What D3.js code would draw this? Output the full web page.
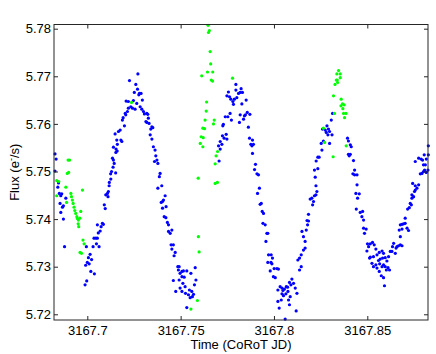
<!DOCTYPE html>
<html>
<head>
<meta charset="utf-8">
<script src="https://cdn.jsdelivr.net/npm/d3@7"></script>
<style>
  body { margin: 0; background: #fff; }
  svg { display: block; }
  text { font-family: "Liberation Sans", Arial, Helvetica, sans-serif; }
</style>
</head>
<body>
<div id="chart"></div>
<script>
// tick values and labels
const xTicks = [3167.7, 3167.75, 3167.8, 3167.85];
const xTickLabels = ["3167.7", "3167.75", "3167.8", "3167.85"];
const yTicks = [5.72, 5.73, 5.74, 5.75, 5.76, 5.77, 5.78];

// [time (CoRoT JD), flux] - blue points
const blueSeries = [
  [3167.6827,5.7537],[3167.6833,5.7526],[3167.6827,5.7501],[3167.6846,5.7476],[3167.6842,5.7467],[3167.6850,5.7454],
  [3167.6863,5.7453],[3167.6858,5.7449],[3167.6885,5.7444],[3167.6854,5.7433],[3167.6872,5.7428],[3167.6867,5.7425],
  [3167.6858,5.7414],[3167.6872,5.7400],[3167.6878,5.7342],
  [3167.6988,5.7262],[3167.6997,5.7270],[3167.6991,5.7303],[3167.7000,5.7309],[3167.7010,5.7306],[3167.7006,5.7319],
  [3167.7023,5.7315],[3167.7015,5.7326],[3167.6995,5.7342],[3167.7019,5.7290],[3167.7038,5.7285],[3167.7031,5.7342],
  [3167.7049,5.7348],[3167.7063,5.7342],[3167.7036,5.7360],[3167.7046,5.7360],[3167.7054,5.7360],[3167.7059,5.7371],
  [3167.7069,5.7375],[3167.7074,5.7384],[3167.7054,5.7388],[3167.7081,5.7391],[3167.7086,5.7389],[3167.7091,5.7430],
  [3167.7096,5.7422],[3167.7108,5.7454],[3167.7099,5.7451],[3167.7111,5.7447],[3167.7113,5.7458],[3167.7117,5.7470],
  [3167.7118,5.7477],[3167.7126,5.7484],[3167.7125,5.7495],[3167.7130,5.7500],[3167.7152,5.7497],[3167.7138,5.7509],
  [3167.7144,5.7517],[3167.7140,5.7524],[3167.7135,5.7528],[3167.7153,5.7540],[3167.7160,5.7543],[3167.7154,5.7547],
  [3167.7140,5.7551],[3167.7161,5.7557],[3167.7158,5.7566],[3167.7180,5.7566],[3167.7185,5.7563],[3167.7149,5.7579],
  [3167.7167,5.7584],[3167.7176,5.7587],[3167.7199,5.7596],[3167.7188,5.7608],[3167.7192,5.7613],[3167.7206,5.7619],
  [3167.7203,5.7622],[3167.7215,5.7626],[3167.7220,5.7633],[3167.7208,5.7648],[3167.7220,5.7647],[3167.7233,5.7636],
  [3167.7242,5.7633],[3167.7247,5.7649],[3167.7256,5.7631],[3167.7265,5.7643],[3167.7226,5.7691],[3167.7252,5.7666],
  [3167.7260,5.7683],[3167.7271,5.7705],[3167.7269,5.7673],[3167.7279,5.7664],[3167.7288,5.7664],[3167.7276,5.7661],
  [3167.7295,5.7650],[3167.7283,5.7636],[3167.7292,5.7631],[3167.7301,5.7626],[3167.7306,5.7621],[3167.7319,5.7622],
  [3167.7324,5.7620],[3167.7327,5.7612],[3167.7314,5.7605],[3167.7319,5.7603],[3167.7331,5.7601],[3167.7346,5.7594],
  [3167.7351,5.7592],[3167.7340,5.7589],[3167.7337,5.7577],[3167.7346,5.7568],[3167.7354,5.7552],[3167.7363,5.7545],
  [3167.7367,5.7533],[3167.7373,5.7524],[3167.7360,5.7521],[3167.7378,5.7517],[3167.7390,5.7496],[3167.7386,5.7489],
  [3167.7399,5.7470],[3167.7378,5.7465],[3167.7417,5.7449],[3167.7408,5.7440],[3167.7403,5.7437],[3167.7396,5.7435],
  [3167.7422,5.7426],[3167.7403,5.7423],[3167.7412,5.7405],[3167.7421,5.7403],[3167.7429,5.7393],[3167.7435,5.7388],
  [3167.7435,5.7374],[3167.7444,5.7370],[3167.7453,5.7377],[3167.7449,5.7346],[3167.7461,5.7346],[3167.7453,5.7337],
  [3167.7471,5.7330],[3167.7465,5.7323],[3167.7485,5.7300],[3167.7492,5.7300],[3167.7461,5.7271],[3167.7474,5.7248],
  [3167.7488,5.7293],[3167.7497,5.7286],[3167.7507,5.7290],[3167.7515,5.7291],[3167.7533,5.7291],[3167.7555,5.7286],
  [3167.7578,5.7298],[3167.7492,5.7272],[3167.7507,5.7279],[3167.7519,5.7278],[3167.7512,5.7265],[3167.7497,5.7255],
  [3167.7524,5.7258],[3167.7507,5.7248],[3167.7526,5.7244],[3167.7547,5.7251],[3167.7560,5.7248],[3167.7574,5.7262],
  [3167.7582,5.7272],[3167.7569,5.7242],[3167.7542,5.7241],[3167.7551,5.7235],[3167.7563,5.7237],[3167.7533,5.7214],
  [3167.7706,5.7522],[3167.7703,5.7554],[3167.7712,5.7547],[3167.7712,5.7563],[3167.7721,5.7557],[3167.7724,5.7575],
  [3167.7733,5.7570],[3167.7744,5.7578],[3167.7748,5.7568],[3167.7726,5.7596],[3167.7729,5.7599],[3167.7739,5.7615],
  [3167.7753,5.7615],[3167.7765,5.7622],[3167.7772,5.7608],[3167.7756,5.7667],[3167.7748,5.7659],[3167.7762,5.7657],
  [3167.7769,5.7652],[3167.7780,5.7647],[3167.7783,5.7641],[3167.7788,5.7652],[3167.7796,5.7671],[3167.7796,5.7683],
  [3167.7801,5.7655],[3167.7810,5.7664],[3167.7819,5.7666],[3167.7824,5.7674],[3167.7831,5.7666],[3167.7828,5.7642],
  [3167.7851,5.7650],[3167.7815,5.7603],[3167.7819,5.7619],[3167.7837,5.7610],[3167.7842,5.7617],[3167.7847,5.7619],
  [3167.7857,5.7624],[3167.7871,5.7620],[3167.7863,5.7593],[3167.7869,5.7570],[3167.7885,5.7566],[3167.7876,5.7557],
  [3167.7882,5.7554],[3167.7890,5.7557],[3167.7885,5.7538],[3167.7901,5.7515],[3167.7896,5.7504],[3167.7909,5.7495],
  [3167.7917,5.7493],[3167.7922,5.7465],[3167.7912,5.7454],[3167.7926,5.7431],[3167.7932,5.7433],[3167.7937,5.7416],
  [3167.7944,5.7412],[3167.7941,5.7391],[3167.7953,5.7388],[3167.7962,5.7370],[3167.7967,5.7370],[3167.7957,5.7353],
  [3167.7971,5.7325],[3167.7985,5.7325],[3167.7992,5.7318],[3167.7967,5.7309],[3167.7984,5.7309],[3167.7989,5.7306],
  [3167.7980,5.7291],[3167.8001,5.7296],[3167.8016,5.7296],[3167.8024,5.7295],[3167.7997,5.7279],[3167.8007,5.7277],
  [3167.8033,5.7258],[3167.8043,5.7255],[3167.8021,5.7251],[3167.8048,5.7250],[3167.8056,5.7253],[3167.8066,5.7258],
  [3167.8073,5.7257],[3167.8083,5.7267],[3167.8096,5.7274],[3167.8091,5.7262],[3167.8105,5.7265],[3167.8114,5.7255],
  [3167.8123,5.7244],[3167.8043,5.7243],[3167.8051,5.7239],[3167.8064,5.7243],[3167.8075,5.7248],[3167.8078,5.7230],
  [3167.8039,5.7230],[3167.8021,5.7227],[3167.8083,5.7220],[3167.8028,5.7213],[3167.8060,5.7190],[3167.8119,5.7207],
  [3167.8087,5.7237],
  [3167.8128,5.7314],[3167.8137,5.7318],[3167.8146,5.7325],[3167.8137,5.7293],[3167.8146,5.7300],[3167.8158,5.7335],
  [3167.8167,5.7339],[3167.8150,5.7374],[3167.8158,5.7363],[3167.8167,5.7353],[3167.8173,5.7377],[3167.8180,5.7388],
  [3167.8177,5.7397],[3167.8185,5.7396],[3167.8185,5.7410],[3167.8194,5.7442],[3167.8203,5.7444],[3167.8207,5.7430],
  [3167.8212,5.7437],[3167.8217,5.7449],[3167.8225,5.7451],[3167.8230,5.7458],[3167.8225,5.7470],[3167.8221,5.7488],
  [3167.8217,5.7503],[3167.8226,5.7522],[3167.8235,5.7530],[3167.8242,5.7530],[3167.8235,5.7506],[3167.8257,5.7545],
  [3167.8253,5.7559],[3167.8265,5.7564],[3167.8298,5.7559],[3167.8260,5.7589],[3167.8275,5.7587],[3167.8284,5.7596],
  [3167.8280,5.7582],[3167.8289,5.7577],[3167.8292,5.7589],[3167.8298,5.7584],[3167.8311,5.7577],[3167.8307,5.7608],
  [3167.8314,5.7622],
  [3167.8394,5.7570],[3167.8399,5.7564],[3167.8409,5.7556],[3167.8414,5.7552],[3167.8399,5.7536],[3167.8409,5.7536],
  [3167.8403,5.7533],[3167.8426,5.7523],[3167.8432,5.7503],[3167.8423,5.7495],[3167.8432,5.7493],[3167.8445,5.7493],
  [3167.8445,5.7472],[3167.8439,5.7454],[3167.8457,5.7453],[3167.8448,5.7444],[3167.8441,5.7421],[3167.8462,5.7414],
  [3167.8475,5.7416],[3167.8471,5.7405],[3167.8480,5.7398],[3167.8480,5.7381],[3167.8494,5.7379],[3167.8485,5.7370],
  [3167.8501,5.7348],[3167.8516,5.7348],[3167.8528,5.7351],[3167.8537,5.7346],[3167.8507,5.7342],[3167.8498,5.7333],
  [3167.8516,5.7320],[3167.8512,5.7318],[3167.8533,5.7321],[3167.8546,5.7337],[3167.8552,5.7325],[3167.8564,5.7330],
  [3167.8579,5.7333],[3167.8587,5.7328],[3167.8560,5.7313],[3167.8569,5.7316],[3167.8582,5.7318],[3167.8596,5.7319],
  [3167.8605,5.7312],[3167.8614,5.7321],[3167.8525,5.7307],[3167.8533,5.7300],[3167.8546,5.7304],[3167.8552,5.7297],
  [3167.8566,5.7306],[3167.8579,5.7300],[3167.8587,5.7304],[3167.8596,5.7300],[3167.8611,5.7298],[3167.8619,5.7293],
  [3167.8564,5.7290],[3167.8575,5.7281],[3167.8587,5.7277],[3167.8602,5.7293],[3167.8592,5.7260],
  [3167.8623,5.7332],[3167.8632,5.7332],[3167.8635,5.7342],[3167.8641,5.7349],[3167.8659,5.7342],[3167.8654,5.7339],
  [3167.8667,5.7344],[3167.8677,5.7346],[3167.8686,5.7344],[3167.8650,5.7328],[3167.8677,5.7363],[3167.8677,5.7388],
  [3167.8686,5.7389],[3167.8694,5.7390],[3167.8703,5.7391],[3167.8713,5.7381],[3167.8721,5.7376],[3167.8671,5.7377],
  [3167.8686,5.7379],[3167.8703,5.7402],[3167.8716,5.7421],[3167.8725,5.7424],[3167.8730,5.7433],[3167.8736,5.7430],
  [3167.8739,5.7444],[3167.8739,5.7451],[3167.8748,5.7447],[3167.8753,5.7458],[3167.8757,5.7461],[3167.8766,5.7465],
  [3167.8775,5.7472],[3167.8743,5.7475],[3167.8757,5.7470],[3167.8784,5.7495],[3167.8793,5.7496],[3167.8801,5.7500],
  [3167.8816,5.7498],[3167.8825,5.7503],[3167.8757,5.7521],[3167.8775,5.7528],[3167.8788,5.7526],[3167.8796,5.7524],
  [3167.8805,5.7535],[3167.8816,5.7526],[3167.8827,5.7554],[3167.8827,5.7535],[3167.8801,5.7514],[3167.8811,5.7514],
  [3167.8807,5.7503]
];

// [time (CoRoT JD), flux] - green points
const greenSeries = [
  [3167.6836,5.7481],[3167.6847,5.7479],[3167.6836,5.7449],[3167.6897,5.7524],[3167.6905,5.7524],[3167.6893,5.7496],
  [3167.6900,5.7498],[3167.6885,5.7467],[3167.6889,5.7435],[3167.6912,5.7454],[3167.6915,5.7447],[3167.6920,5.7440],
  [3167.6924,5.7433],[3167.6929,5.7425],[3167.6933,5.7418],[3167.6938,5.7412],[3167.6944,5.7405],[3167.6947,5.7401],
  [3167.6952,5.7398],[3167.6960,5.7402],[3167.6951,5.7390],[3167.6954,5.7384],[3167.6965,5.7416],[3167.6974,5.7461],
  [3167.6977,5.7356],[3167.6983,5.7348],[3167.6961,5.7330],[3167.6969,5.7328],[3167.7237,5.7645],
  [3167.7555,5.7211],[3167.7590,5.7229],[3167.7599,5.7331],[3167.7595,5.7363],[3167.7594,5.7486],[3167.7605,5.7559],
  [3167.7610,5.7573],[3167.7621,5.7571],[3167.7619,5.7552],[3167.7619,5.7591],[3167.7628,5.7590],[3167.7631,5.7608],
  [3167.7637,5.7627],[3167.7639,5.7646],[3167.7613,5.7701],[3167.7644,5.7709],[3167.7672,5.7709],[3167.7664,5.7692],
  [3167.7671,5.7690],[3167.7661,5.7726],[3167.7658,5.7752],[3167.7649,5.7792],[3167.7654,5.7796],[3167.7647,5.7807],
  [3167.7680,5.7608],[3167.7676,5.7600],[3167.7698,5.7542],[3167.7690,5.7533],[3167.7685,5.7516],[3167.7685,5.7475],
  [3167.7697,5.7477],[3167.7778,5.7696],
  [3167.8265,5.7591],[3167.8271,5.7561],[3167.8317,5.7531],[3167.8324,5.7622],[3167.8319,5.7659],[3167.8327,5.7683],
  [3167.8334,5.7692],[3167.8339,5.7692],[3167.8337,5.7705],[3167.8346,5.7712],[3167.8355,5.7705],[3167.8355,5.7697],
  [3167.8360,5.7652],[3167.8367,5.7642],[3167.8359,5.7638],[3167.8376,5.7640],[3167.8369,5.7632],[3167.8373,5.7622],
  [3167.8386,5.7622],[3167.8378,5.7613],[3167.8387,5.7554],[3167.8341,5.7687]
];

const width = 436, height = 354;
const plot = { left: 54, top: 24.5, right: 428, bottom: 320 };
const axisColor = '#262626';

const svg = d3.select('#chart')
  .append('svg')
  .attr('width', width)
  .attr('height', height);

const x = d3.scaleLinear()
  .domain([3167.68216, 3167.88252])
  .range([plot.left, plot.right]);

const y = d3.scaleLinear()
  .domain([5.7188, 5.78088])
  .range([plot.bottom, plot.top]);

// points (blue first, green on top)
svg.append('g')
  .selectAll('circle')
  .data(blueSeries)
  .enter()
  .append('circle')
  .attr('cx', d => x(d[0]))
  .attr('cy', d => y(d[1]))
  .attr('r', 1.6)
  .attr('fill', '#0000ff');

svg.append('g')
  .selectAll('circle')
  .data(greenSeries)
  .enter()
  .append('circle')
  .attr('cx', d => x(d[0]))
  .attr('cy', d => y(d[1]))
  .attr('r', 1.6)
  .attr('fill', '#00ff00');

// axes, ticks pointing inward (matlab style)
const fmtX = d => xTickLabels[xTicks.indexOf(d)];

const bottomAxis = svg.append('g')
  .attr('transform', `translate(0,${plot.bottom})`)
  .call(d3.axisBottom(x).tickValues(xTicks).tickFormat(fmtX)
    .tickSizeInner(-4).tickSizeOuter(0).tickPadding(6));

const topAxis = svg.append('g')
  .attr('transform', `translate(0,${plot.top})`)
  .call(d3.axisTop(x).tickValues(xTicks).tickFormat('')
    .tickSizeInner(-4).tickSizeOuter(0));

const leftAxis = svg.append('g')
  .attr('transform', `translate(${plot.left},0)`)
  .call(d3.axisLeft(y).tickValues(yTicks).tickFormat(d3.format('.2f'))
    .tickSizeInner(-4).tickSizeOuter(0).tickPadding(3));

const rightAxis = svg.append('g')
  .attr('transform', `translate(${plot.right},0)`)
  .call(d3.axisRight(y).tickValues(yTicks).tickFormat('')
    .tickSizeInner(-4).tickSizeOuter(0));

[bottomAxis, topAxis, leftAxis, rightAxis].forEach(g => {
  g.select('.domain').remove();
  g.selectAll('line').attr('stroke', axisColor);
  g.selectAll('text')
    .attr('fill', '#000')
    .style('font-size', '13px')
    .style('font-family', '"Liberation Sans", Arial, Helvetica, sans-serif');
});

// box
svg.append('rect')
  .attr('x', plot.left)
  .attr('y', plot.top)
  .attr('width', plot.right - plot.left)
  .attr('height', plot.bottom - plot.top)
  .attr('fill', 'none')
  .attr('stroke', axisColor)
  .attr('stroke-width', 1);

// axis titles
svg.append('text')
  .attr('x', (plot.left + plot.right) / 2)
  .attr('y', 349)
  .attr('text-anchor', 'middle')
  .style('font-size', '13px')
  .text('Time (CoRoT JD)');

const yTitle = svg.append('text')
  .attr('transform', `translate(18.5,${(plot.top + plot.bottom) / 2}) rotate(-90)`)
  .attr('text-anchor', 'middle')
  .style('font-size', '13px');
yTitle.append('tspan').text('Flux (e');
yTitle.append('tspan').attr('dy', -5).style('font-size', '9px').text('-');
yTitle.append('tspan').attr('dy', 5).text('/s)');
</script>
</body>
</html>
